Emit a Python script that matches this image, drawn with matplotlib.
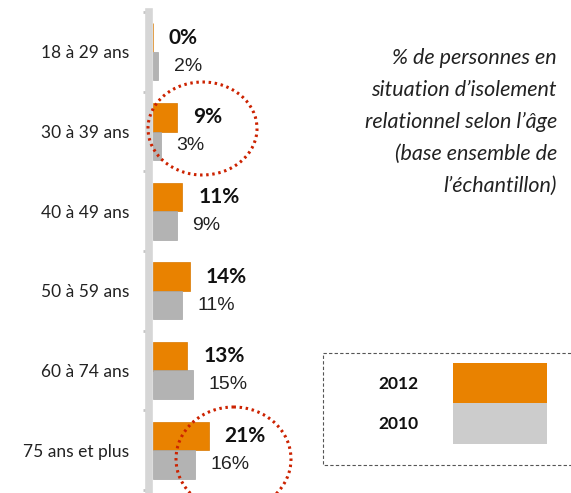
import numpy as np
import matplotlib
matplotlib.use("Agg")
import matplotlib.pyplot as plt
from matplotlib.patches import Ellipse, Rectangle

# data
categories = ["18 à 29 ans", "30 à 39 ans", "40 à 49 ans",
              "50 à 59 ans", "60 à 74 ans", "75 ans et plus"]
values_2012 = [0, 9, 11, 14, 13, 21]
values_2010 = [2, 3, 9, 11, 15, 16]
series_names = ["2012", "2010"]
title_lines = ["% de personnes en", "situation d\u2019isolement",
               "relationnel selon l\u2019\u00e2ge", "(base ensemble de",
               "l\u2019\u00e9chantillon)"]

W, H = 571, 493
ORANGE = "#E98200"
GREY = "#b3b3b3"
GREY_LEG = "#cccccc"

fig = plt.figure(figsize=(W / 100, H / 100), dpi=100)

# main bar axes (pixel layout converted to figure fractions)
x0, x1 = 153, 300
y_top, y_bot = 12, 490
px_per_pct = 2.65
ax = fig.add_axes([x0 / W, (H - y_bot) / H, (x1 - x0) / W, (y_bot - y_top) / H])
ax.set_xlim(0, (x1 - x0) / px_per_pct)
ax.set_ylim(len(categories) - 0.5, -0.5)

y = np.arange(len(categories))
bh = 0.357
ax.barh(y - bh / 2, values_2012, height=bh, color=ORANGE, edgecolor="#d87800", linewidth=0.5)
ax.barh(y + bh / 2, values_2010, height=bh, color=GREY, edgecolor="#a6a6a6", linewidth=0.5)

for yi, v in zip(y, values_2012):
    ax.annotate(f"{v}%", (v, yi - bh / 2), xytext=(11.5, 0), textcoords="offset points",
                ha="left", va="center", fontsize=15, fontweight="bold",
                family=["Lato", "DejaVu Sans"], color="#111111")
for yi, v in zip(y, values_2010):
    ax.annotate(f"{v}%", (v, yi + bh / 2), xytext=(11, 0), textcoords="offset points",
                ha="left", va="center", fontsize=14, family=["Liberation Sans", "DejaVu Sans"],
                color="#222222")

for s in ["top", "right", "bottom"]:
    ax.spines[s].set_visible(False)
ax.spines["left"].set_position(("outward", 3))
ax.spines["left"].set_linewidth(5.5)
ax.spines["left"].set_color("#d6d6d6")
ax.set_xticks([])
ax.set_yticks(y)
ax.set_yticklabels(categories, family=["Lato", "DejaVu Sans"], fontsize=12.5, color="#222222")
ax.tick_params(axis="y", which="major", length=0, pad=14)
ax.set_yticks(np.arange(-0.5, len(categories)), minor=True)
ax.tick_params(axis="y", which="minor", length=4, width=2, color="#c4c4c4", direction="out")

# overlay in pixel coordinates for annotations
ov = fig.add_axes([0, 0, 1, 1], facecolor="none")
ov.set_xlim(0, W)
ov.set_ylim(H, 0)
ov.axis("off")

for i, line in enumerate(title_lines):
    ov.text(557, 58 + 32 * i, line, ha="right", va="center", fontsize=15.5,
            style="italic", family=["Lato", "DejaVu Sans"], color="#222222")

ov.add_patch(Ellipse((202.5, 128.5), 109, 93, fill=False, edgecolor="#cc2200",
                     linestyle=(0, (0.8, 1.2)), linewidth=2.2))
ov.add_patch(Ellipse((233.5, 459), 115, 104, fill=False, edgecolor="#cc2200",
                     linestyle=(0, (0.8, 1.2)), linewidth=2.2))

# legend box
ov.add_patch(Rectangle((323, 353), 260, 112, fill=False, edgecolor="#555555",
                       linestyle=(0, (3, 2)), linewidth=0.8, clip_on=False))
ov.add_patch(Rectangle((453, 363), 94, 40, facecolor=ORANGE, edgecolor="none"))
ov.add_patch(Rectangle((453, 403), 94, 41, facecolor=GREY_LEG, edgecolor="none"))
ov.text(398, 384, series_names[0], ha="center", va="center", fontsize=12.5,
        fontweight="bold", family=["Lato", "DejaVu Sans"], color="#111111")
ov.text(398, 424, series_names[1], ha="center", va="center", fontsize=12.5,
        fontweight="bold", family=["Lato", "DejaVu Sans"], color="#111111")

fig.savefig("out.png", dpi=100)
